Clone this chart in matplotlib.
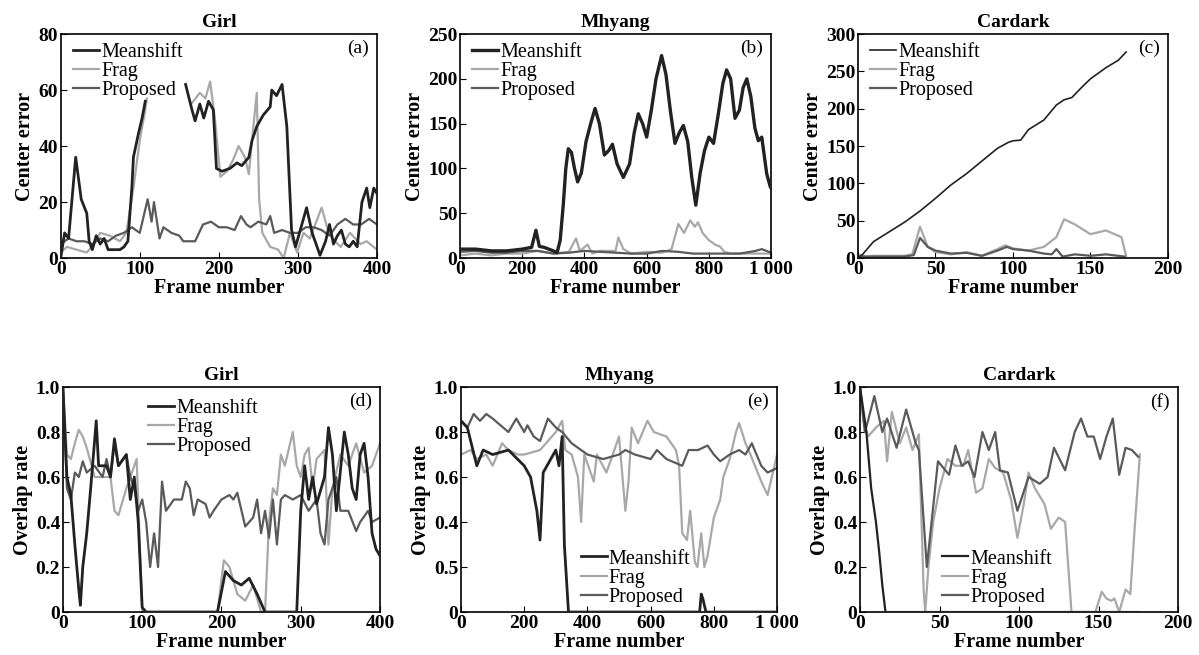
import numpy as np
import matplotlib
matplotlib.use('Agg')
import matplotlib.pyplot as plt

plt.rcParams['font.family'] = ['Liberation Serif', 'DejaVu Serif']

nan = np.nan

## (a) Girl - center error
girl_ce_ms_x = [0, 5, 10, 19, 26, 33, 36, 40, 45, 50, 55, 60, 65, 70, 75, 80, 85, 90, 92, 98, 103, 107, 130,
                158, 166, 170, 176, 181, 187, 193, 197, 204, 214, 223, 229, 238, 242, 248, 256, 265, 267, 273,
                280, 286, 292, 297, 303, 311, 318, 328, 335, 340, 345, 350, 355, 360, 365, 370, 375, 381, 387,
                391, 396, 400]
girl_ce_ms = [0, 9, 7, 36, 21, 16, 6, 3, 8, 5, 7, 3, 3, 3, 3, 4, 6, 25, 36, 44, 50, 56, nan,
              62, 53, 49, 55, 50, 56, 53, 32, 31, 32, 34, 33, 36, 42, 47, 51, 54, 60, 58,
              62, 47, 10, 4, 10, 18, 9, 1, 6, 12, 5, 8, 10, 5, 4, 6, 4, 20, 25,
              18, 25, 23]
girl_ce_frag_x = [0, 8, 20, 33, 42, 50, 62, 75, 83, 92, 100, 107, 109, 130, 165, 176, 183, 189, 195, 202, 210,
                  218, 225, 233, 238, 243, 248, 251, 255, 265, 275, 282, 290, 299, 307, 315, 322, 330, 339,
                  347, 354, 366, 379, 387, 400]
girl_ce_frag = [2, 4, 3, 2, 5, 9, 8, 6, 9, 25, 42, 53, 57, nan, 55, 59, 57, 63, 50, 29, 31,
                35, 40, 36, 30, 45, 59, 21, 9, 4, 3, 0, 9, 2, 9, 7, 12, 18, 9,
                6, 4, 9, 5, 6, 3]
girl_ce_prop_x = [0, 5, 10, 20, 30, 40, 50, 60, 70, 80, 90, 100, 105, 110, 115, 118, 125, 130, 140, 150, 155,
                  160, 170, 180, 190, 200, 210, 220, 228, 235, 240, 250, 260, 265, 270, 280, 290, 300, 310,
                  320, 330, 340, 350, 360, 370, 380, 390, 395, 400]
girl_ce_prop = [5, 6, 7, 6, 6, 5, 7, 6, 8, 9, 11, 9, 15, 21, 13, 20, 7, 11, 9, 8, 6,
                6, 6, 12, 13, 11, 11, 10, 15, 12, 11, 13, 12, 15, 9, 10, 9, 9, 11,
                11, 10, 8, 12, 14, 12, 12, 14, 13, 12]

## (b) Mhyang - center error
mh_ce_ms_x = [0, 50, 100, 150, 200, 230, 244, 255, 270, 300, 312, 322, 332, 340, 348, 358, 368, 378, 390, 405,
              420, 434, 448, 464, 478, 490, 505, 525, 545, 560, 573, 587, 600, 615, 630, 648, 662, 676, 691,
              705, 718, 732, 745, 758, 772, 786, 800, 815, 830, 845, 857, 870, 884, 898, 910, 922, 935, 948,
              959, 970, 986, 997, 1000]
mh_ce_ms = [10, 10, 8, 8, 10, 12, 31, 13, 12, 8, 6, 20, 60, 100, 122, 118, 100, 85, 95, 130,
            150, 167, 150, 115, 120, 127, 105, 90, 105, 140, 161, 150, 135, 165, 200, 226, 205, 165, 128,
            140, 148, 130, 90, 59, 95, 120, 135, 128, 160, 195, 210, 200, 156, 165, 190, 200, 180, 145,
            131, 135, 94, 80, 78]
mh_ce_frag_x = [0, 50, 100, 150, 200, 250, 300, 350, 373, 385, 410, 425, 450, 500, 509, 525, 550, 600, 650,
                680, 702, 720, 740, 755, 765, 780, 800, 820, 835, 850, 870, 900, 950, 1000]
mh_ce_frag = [3, 5, 3, 5, 5, 8, 5, 7, 22, 8, 15, 5, 8, 8, 23, 10, 5, 7, 6,
              10, 38, 28, 42, 35, 40, 28, 20, 15, 13, 7, 5, 5, 5, 5]
mh_ce_prop_x = [0, 50, 100, 150, 200, 250, 300, 350, 400, 450, 500, 550, 600, 650, 700, 750, 800, 850, 900,
                950, 970, 1000]
mh_ce_prop = [7, 8, 6, 6, 8, 8, 5, 6, 8, 7, 6, 5, 5, 8, 7, 5, 5, 5, 5, 8, 10, 6]

## (c) Cardark - center error
cd_ce_ms_x = [0, 3, 10, 20, 30, 40, 50, 60, 70, 80, 90, 97, 100, 105, 110, 120, 128, 133, 138, 145, 150, 160,
              168, 173]
cd_ce_ms = [0, 5, 22, 35, 48, 63, 80, 98, 113, 130, 147, 155, 157, 158, 172, 185, 205, 212, 215, 230, 240, 255,
            265, 276]
cd_ce_frag_x = [0, 5, 10, 20, 30, 35, 40, 45, 50, 60, 70, 80, 90, 95, 100, 110, 120, 128, 133, 140, 150, 160,
                170, 173]
cd_ce_frag = [5, 2, 3, 3, 3, 5, 42, 15, 8, 5, 8, 3, 12, 17, 13, 10, 15, 28, 52, 45, 32, 37, 28, 3]
cd_ce_prop_x = [0, 10, 20, 30, 36, 40, 45, 50, 60, 70, 80, 90, 96, 100, 110, 120, 125, 128, 132, 140, 150, 160,
                172]
cd_ce_prop = [2, 2, 2, 2, 4, 27, 15, 10, 6, 7, 3, 10, 15, 12, 10, 6, 5, 12, 2, 5, 3, 5, 2]

## (d) Girl - overlap rate
girl_or_ms_x = [0, 5, 10, 15, 20, 22, 25, 30, 35, 42, 45, 55, 60, 65, 70, 80, 85, 90, 95, 100, 105, 195, 205,
                215, 225, 235, 245, 255, 295, 300, 305, 310, 315, 320, 330, 335, 340, 345, 355, 360, 365, 370,
                375, 380, 385, 390, 395, 400]
girl_or_ms = [1.0, 0.6, 0.52, 0.3, 0.1, 0.03, 0.2, 0.35, 0.55, 0.85, 0.65, 0.65, 0.6, 0.77, 0.65, 0.7, 0.5,
              0.6, 0.4, 0.02, 0, 0, 0.18, 0.14, 0.12, 0.15, 0.08, 0, 0, 0.45, 0.65, 0.5, 0.6, 0.48, 0.6,
              0.82, 0.7, 0.45, 0.8, 0.7, 0.55, 0.5, 0.7, 0.75, 0.6, 0.35, 0.28, 0.25]
girl_or_frag_x = [0, 5, 10, 15, 20, 25, 30, 40, 50, 60, 65, 70, 80, 90, 93, 97, 100, 195, 203, 210, 220, 230,
                  240, 250, 255, 260, 265, 270, 275, 280, 290, 295, 300, 305, 310, 315, 320, 330, 335, 340,
                  350, 360, 370, 380, 390, 400]
girl_or_frag = [1.0, 0.7, 0.68, 0.75, 0.81, 0.78, 0.73, 0.6, 0.6, 0.6, 0.45, 0.43, 0.55, 0.65, 0.68, 0.3, 0,
                0, 0.23, 0.2, 0.08, 0.05, 0.12, 0, 0, 0.4, 0.55, 0.52, 0.7, 0.65, 0.8, 0.65, 0.6, 0.7,
                0.73, 0.55, 0.68, 0.72, 0.3, 0.55, 0.7, 0.65, 0.75, 0.62, 0.65, 0.75]
girl_or_prop_x = [0, 5, 10, 15, 20, 25, 30, 40, 50, 55, 60, 65, 70, 80, 85, 90, 95, 100, 105, 110, 115, 120,
                  125, 130, 140, 150, 155, 160, 165, 170, 180, 185, 190, 200, 210, 215, 220, 230, 240, 245,
                  250, 255, 260, 265, 270, 275, 280, 290, 300, 310, 320, 325, 330, 335, 345, 350, 360, 370,
                  375, 385, 390, 400]
girl_or_prop = [1.0, 0.55, 0.5, 0.62, 0.6, 0.67, 0.62, 0.65, 0.6, 0.68, 0.6, 0.75, 0.65, 0.7, 0.6, 0.55,
                0.45, 0.5, 0.4, 0.2, 0.35, 0.2, 0.58, 0.45, 0.5, 0.5, 0.58, 0.55, 0.43, 0.5, 0.48, 0.42,
                0.45, 0.5, 0.52, 0.5, 0.53, 0.38, 0.42, 0.5, 0.35, 0.45, 0.33, 0.5, 0.3, 0.5, 0.52, 0.5,
                0.52, 0.45, 0.5, 0.35, 0.3, 0.5, 0.6, 0.45, 0.45, 0.36, 0.4, 0.45, 0.4, 0.42]

## (e) Mhyang - overlap rate
mh_or_ms_x = [0, 20, 50, 70, 100, 150, 200, 220, 240, 250, 260, 280, 300, 310, 320, 327, 340, 755, 760, 765,
              775, 1000]
mh_or_ms = [0.85, 0.82, 0.65, 0.72, 0.7, 0.72, 0.65, 0.6, 0.45, 0.32, 0.62, 0.67, 0.72, 0.65, 0.78, 0.3, 0,
            0, 0.08, 0.06, 0, 0]
mh_or_frag_x = [0, 30, 50, 80, 100, 130, 150, 180, 200, 250, 300, 320, 330, 350, 370, 380, 390, 420, 430, 460,
                500, 520, 530, 540, 560, 590, 610, 650, 680, 690, 700, 715, 725, 740, 748, 760, 770, 780,
                800, 820, 830, 850, 870, 880, 900, 910, 950, 970, 1000]
mh_or_frag = [0.7, 0.72, 0.68, 0.7, 0.65, 0.75, 0.72, 0.7, 0.7, 0.72, 0.8, 0.85, 0.72, 0.7, 0.6, 0.4, 0.7,
              0.58, 0.7, 0.62, 0.78, 0.45, 0.58, 0.82, 0.75, 0.85, 0.8, 0.78, 0.72, 0.65, 0.35, 0.32, 0.45,
              0.22, 0.2, 0.35, 0.2, 0.25, 0.42, 0.5, 0.6, 0.68, 0.8, 0.84, 0.75, 0.72, 0.58, 0.52, 0.7]
mh_or_prop_x = [0, 20, 40, 60, 80, 100, 150, 175, 200, 210, 230, 250, 275, 300, 320, 350, 400, 450, 500, 520,
                550, 600, 620, 650, 700, 720, 750, 780, 800, 820, 850, 880, 900, 920, 950, 970, 1000]
mh_or_prop = [0.85, 0.82, 0.88, 0.85, 0.88, 0.86, 0.8, 0.86, 0.8, 0.83, 0.78, 0.76, 0.86, 0.82, 0.8, 0.75,
              0.7, 0.68, 0.7, 0.72, 0.7, 0.68, 0.72, 0.68, 0.65, 0.72, 0.72, 0.74, 0.7, 0.67, 0.7, 0.72,
              0.7, 0.75, 0.65, 0.62, 0.64]

## (f) Cardark - overlap rate
cd_or_ms_x = [0, 4, 7, 10, 12, 14, 16, 175]
cd_or_ms = [1.0, 0.8, 0.55, 0.4, 0.27, 0.12, 0, 0]
cd_or_frag_x = [0, 2, 5, 10, 15, 17, 20, 25, 29, 33, 37, 40, 41, 43, 46, 50, 55, 60, 65, 68, 73, 77, 81, 85,
                90, 95, 99, 103, 106, 110, 116, 120, 125, 129, 133, 148, 152, 155, 158, 160, 163, 167, 170,
                173, 176]
cd_or_frag = [1.0, 0.85, 0.78, 0.82, 0.85, 0.67, 0.89, 0.75, 0.82, 0.72, 0.79, 0.1, 0, 0.2, 0.4, 0.55, 0.68,
              0.65, 0.65, 0.72, 0.53, 0.55, 0.68, 0.64, 0.62, 0.5, 0.33, 0.48, 0.62, 0.55, 0.48, 0.37,
              0.42, 0.4, 0, 0, 0.09, 0.06, 0.05, 0.06, 0, 0.1, 0.08, 0.4, 0.7]
cd_or_prop_x = [0, 3, 5, 9, 14, 17, 23, 29, 35, 37, 42, 45, 49, 56, 60, 64, 68, 72, 77, 81, 85, 88, 93, 99,
                106, 113, 118, 122, 129, 135, 139, 143, 147, 151, 155, 159, 163, 167, 171, 175]
cd_or_prop = [1.0, 0.8, 0.85, 0.96, 0.8, 0.86, 0.73, 0.9, 0.75, 0.72, 0.2, 0.4, 0.67, 0.61, 0.74, 0.65, 0.67,
              0.6, 0.8, 0.72, 0.8, 0.63, 0.62, 0.45, 0.6, 0.57, 0.6, 0.73, 0.63, 0.8, 0.86, 0.78, 0.78,
              0.68, 0.78, 0.86, 0.61, 0.73, 0.72, 0.69]

c_ms, c_frag, c_prop = '#222222', '#a8a8a8', '#5a5a5a'

fig = plt.figure(figsize=(11.99, 6.55), dpi=100)

panels = [
    # rect, title, tag, xmax, ymax, yticks, ytick labels, series, legend anchor, legend loc, ylabel, ms width
    ([0.0506, 0.606, 0.2638, 0.342], 'Girl', '(a)', 400, 80, [0, 20, 40, 60, 80], None,
     [(girl_ce_ms_x, girl_ce_ms), (girl_ce_frag_x, girl_ce_frag), (girl_ce_prop_x, girl_ce_prop)],
     (0.0, 1.015), 'upper left', 'Center error', 2.0),
    ([0.3837, 0.606, 0.2594, 0.342], 'Mhyang', '(b)', 1000, 250, [0, 50, 100, 150, 200, 250], None,
     [(mh_ce_ms_x, mh_ce_ms), (mh_ce_frag_x, mh_ce_frag), (mh_ce_prop_x, mh_ce_prop)],
     (0.0, 1.015), 'upper left', 'Center error', 2.4),
    ([0.7156, 0.606, 0.2585, 0.342], 'Cardark', '(c)', 200, 300, [0, 50, 100, 150, 200, 250, 300], None,
     [(cd_ce_ms_x, cd_ce_ms), (cd_ce_frag_x, cd_ce_frag), (cd_ce_prop_x, cd_ce_prop)],
     (0.0, 1.015), 'upper left', 'Center error', 1.2),
    ([0.0525, 0.0656, 0.2644, 0.3435], 'Girl', '(d)', 400, 1.0, [0, 0.2, 0.4, 0.6, 0.8, 1.0],
     ['0', '0.2', '0.4', '0.6', '0.8', '1.0'],
     [(girl_or_ms_x, girl_or_ms), (girl_or_frag_x, girl_or_frag), (girl_or_prop_x, girl_or_prop)],
     (0.23, 1.0), 'upper left', 'Overlap rate', 2.0),
    ([0.3845, 0.0656, 0.2636, 0.3435], 'Mhyang', '(e)', 1000, 1.0, [0, 0.2, 0.4, 0.6, 0.8, 1.0],
     ['0', '0.5', '0.4', '0.6', '0.8', '1.0'],
     [(mh_or_ms_x, mh_or_ms), (mh_or_frag_x, mh_or_frag), (mh_or_prop_x, mh_or_prop)],
     (0.34, -0.03), 'lower left', 'Overlap rate', 2.0),
    ([0.7173, 0.0656, 0.2652, 0.3435], 'Cardark', '(f)', 200, 1.0, [0, 0.2, 0.4, 0.6, 0.8, 1.0],
     ['0', '0.2', '0.4', '0.6', '0.8', '1.0'],
     [(cd_or_ms_x, cd_or_ms), (cd_or_frag_x, cd_or_frag), (cd_or_prop_x, cd_or_prop)],
     (0.22, -0.03), 'lower left', 'Overlap rate', 1.6),
]

for rect, title, tag, xmax, ymax, yticks, ylabels, series, anchor, loc, ylab, mslw in panels:
    ax = fig.add_axes(rect)
    (xm, ym), (xf, yf), (xp, yp) = series
    ax.plot(xm, ym, color=c_ms, lw=mslw, label='Meanshift', zorder=3)
    ax.plot(xf, yf, color=c_frag, lw=1.6, label='Frag', zorder=2)
    ax.plot(xp, yp, color=c_prop, lw=1.6, label='Proposed', zorder=2)
    ax.set_xlim(0, xmax)
    ax.set_ylim(0, ymax)
    if xmax == 1000:
        xt = [0, 200, 400, 600, 800, 1000]
        xl = ['0', '200', '400', '600', '800', '1 000']
    else:
        xt = list(np.linspace(0, xmax, 5))
        xl = [str(int(v)) for v in xt]
    ax.set_xticks(xt)
    ax.set_xticklabels(xl)
    ax.set_yticks(yticks)
    if ylabels is not None:
        ax.set_yticklabels(ylabels)
    ax.tick_params(direction='in', length=4, labelsize=14, pad=2)
    for lbl in ax.get_xticklabels() + ax.get_yticklabels():
        lbl.set_fontweight('bold')
    ax.set_title(title, fontsize=14, fontweight='bold', pad=5)
    ax.set_xlabel('Frame number', fontsize=14.5, fontweight='bold', labelpad=0)
    ax.set_ylabel(ylab, fontsize=14.5, fontweight='bold', labelpad=2)
    ax.text(0.975, 0.935, tag, transform=ax.transAxes, ha='right', va='center', fontsize=14)
    ax.legend(loc=loc, bbox_to_anchor=anchor, frameon=False, fontsize=14.5,
              handlelength=1.3, handletextpad=0.1, labelspacing=0.0, borderaxespad=0.2)
    for s in ax.spines.values():
        s.set_linewidth(1.2)

fig.savefig('out.png', dpi=100)
